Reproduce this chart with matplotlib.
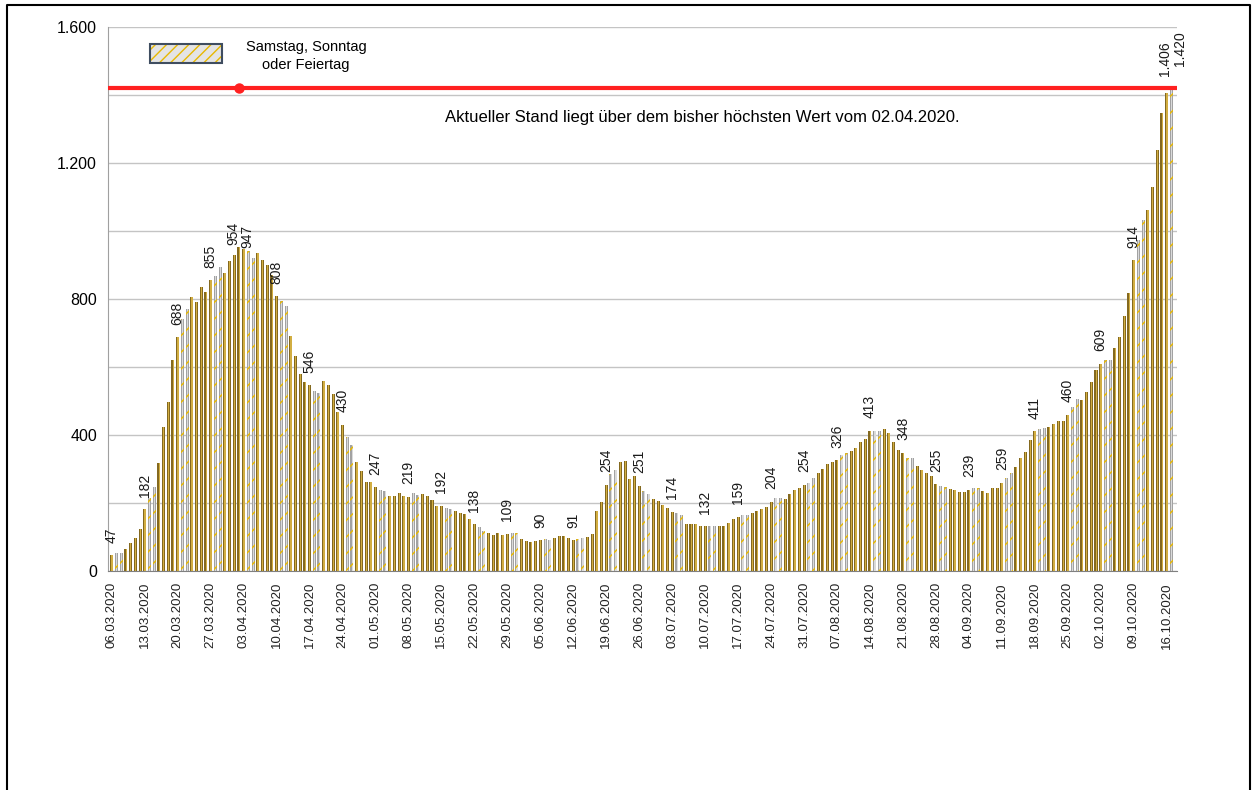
import matplotlib
matplotlib.use("Agg")
import matplotlib.pyplot as plt
import matplotlib.patches as mpatches
import matplotlib.lines as mlines
import numpy as np
import pandas as pd

plt.rcParams['font.family'] = ['Liberation Sans', 'DejaVu Sans']

# daily values, 06.03.2020 - 17.10.2020
march = [47, 52, 52, 64, 83, 98, 125, 182, 216, 248, 319, 425, 497, 620, 688, 740,
         770, 806, 791, 836, 822, 855, 868, 895, 877, 912]
april = [930, 954, 947, 941, 922, 935, 914, 900, 870, 808, 794, 779, 691, 632, 580,
         556, 546, 530, 524, 559, 547, 520, 469, 430, 395, 371, 320, 293, 262, 262]
may = [247, 239, 234, 222, 221, 229, 221, 219, 228, 224, 226, 222, 209, 190, 192, 185,
       182, 177, 172, 167, 153, 138, 129, 117, 112, 107, 112, 107, 109, 112, 112]
june = [94, 87, 85, 87, 90, 95, 92, 97, 102, 102, 97, 91, 94, 98, 99, 110, 176, 203,
        254, 285, 296, 320, 323, 271, 279, 251, 234, 227, 213, 207]
july = [195, 185, 174, 171, 164, 139, 138, 138, 133, 132, 133, 133, 133, 133, 140, 153,
        159, 164, 166, 170, 176, 181, 188, 204, 215, 215, 213, 227, 239, 244, 254]
august = [260, 275, 289, 300, 314, 322, 326, 341, 347, 354, 361, 378, 388, 413, 412, 412,
          417, 405, 380, 356, 348, 331, 331, 310, 297, 287, 280, 255, 251, 248, 241]
september = [238, 233, 233, 239, 245, 243, 235, 230, 243, 243, 259, 275, 287, 307, 333,
             349, 385, 411, 419, 421, 425, 433, 440, 440, 460, 481, 506, 503, 526, 557]
october = [591, 609, 621, 621, 655, 689, 751, 818, 914, 975, 1031, 1063, 1130, 1239,
           1348, 1406, 1420]

start_date = '2020-03-06'
peak_date = '2020-04-02'
note = "Aktueller Stand liegt über dem bisher höchsten Wert vom 02.04.2020."
legend_text = "Samstag, Sonntag\noder Feiertag"

values = np.array(march + april + may + june + july + august + september + october)
dates = pd.date_range(start_date, periods=len(values), freq='D')
x = np.arange(len(values))
weekend = dates.dayofweek >= 5
current = values[-1]
peak_idx = int(np.where(dates == pd.Timestamp(peak_date))[0][0])
last = len(values) - 1

fig = plt.figure(figsize=(12.58, 7.9), dpi=100)
ax = fig.add_axes([108 / 1258, 219 / 790, 1069 / 1258, 544 / 790])

# gridlines
ax.set_yticks(np.arange(0, 1601, 400))
ax.set_yticks(np.arange(200, 1600, 400), minor=True)
ax.grid(axis='y', which='both', color='#c4c4c4', linewidth=1.0, zorder=0)
ax.set_axisbelow(True)

# working days: golden cylinders
wd = ~weekend
ax.bar(x[wd], values[wd], width=0.64, color='#84691f', linewidth=0, zorder=2)
ax.bar(x[wd] + 0.06, values[wd], width=0.26, color='#d2ae42', linewidth=0, zorder=3)

# weekends: grey with yellow hatch
ax.bar(x[weekend], values[weekend], width=0.64, color='#a2a2a2', linewidth=0, zorder=2)
ax.bar(x[weekend] + 0.06, values[weekend], width=0.26, color='#dadada', linewidth=0, zorder=3)
ax.bar(x[weekend], values[weekend], width=0.64, facecolor='none', edgecolor='#e8b800',
       hatch='//', linewidth=0, zorder=4)

# red line at current level
ax.axhline(current, color='#ff2020', linewidth=3, zorder=5)
ax.plot([peak_idx], [current], 'o', color='#ff2020', markersize=6.5, zorder=6)

# data labels on Fridays, plus peak and last day
label_idx = [i for i in x if i % 7 == 0] + [peak_idx, last]
for i in sorted(set(label_idx)):
    txt = f"{values[i]:,}".replace(',', '.')
    dx, dy = 0, 9
    if i == peak_idx:
        dx, dy = -4, 1
    elif i == peak_idx + 1:
        dx, dy = 2.5, 1
    elif i == last - 1:
        dx, dy = -1, 12
    elif i == last:
        dx, dy = 6, 16
    ax.annotate(txt, (i, values[i]), xytext=(dx, dy), textcoords='offset points',
                rotation=90, ha='center', va='bottom', fontsize=10, color='#1a1a1a')

ax.text(0.556, 0.833, note, transform=ax.transAxes, ha='center', va='center',
        fontsize=12, color='black')

ax.set_xlim(-0.8, len(values) + 0.2)
ax.set_ylim(0, 1600)

ax.set_yticklabels([f"{v:,}".replace(',', '.') for v in range(0, 1601, 400)], fontsize=11.5)
ax.tick_params(axis='y', which='both', length=0, pad=8)

tick_pos = x[::7]
ax.set_xticks(tick_pos)
ax.set_xticklabels([d.strftime('%d.%m.%Y') for d in dates[::7]], rotation=90, fontsize=9.5,
                   color='#222222')
ax.tick_params(axis='x', length=0, pad=8)

for s in ['top', 'right']:
    ax.spines[s].set_visible(False)
ax.spines['left'].set_color('#a0a0a0')
ax.spines['bottom'].set_color('#808080')

# legend box
W, H = 1258, 790
fig.patches.append(mpatches.Rectangle((150 / W, 1 - 63 / H), 72 / W, 19 / H, transform=fig.transFigure,
                                      facecolor='#e4e4e4', edgecolor='#e8b800', hatch='///',
                                      linewidth=0, zorder=5))
fig.patches.append(mpatches.Rectangle((150 / W, 1 - 63 / H), 72 / W, 19 / H, transform=fig.transFigure,
                                      facecolor='none', edgecolor='#3f4d60', linewidth=1.5, zorder=6))
fig.text(306 / W, 1 - 56 / H, legend_text, ha='center', va='center', fontsize=10.5,
         linespacing=1.3)

# outer frame
fig.lines.append(mlines.Line2D([7 / W, 7 / W, 1250 / W, 1250 / W], [-0.01, 1 - 5 / H, 1 - 5 / H, -0.01],
                               transform=fig.transFigure, color='black', linewidth=1.5))

fig.savefig('out.png', dpi=100)
